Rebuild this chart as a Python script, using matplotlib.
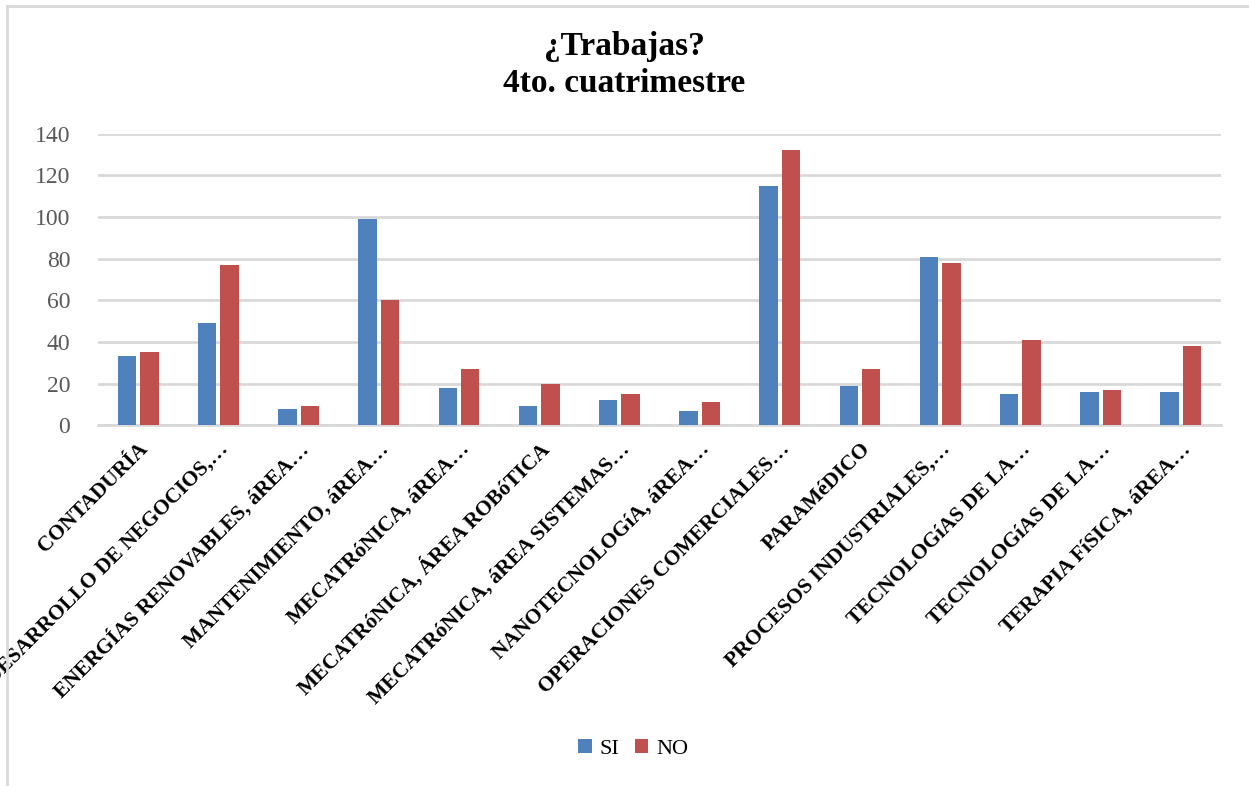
import matplotlib
matplotlib.use("Agg")
import matplotlib.pyplot as plt
import numpy as np
from matplotlib.lines import Line2D

categories = [
    "CONTADURÍA",
    "DESARROLLO DE NEGOCIOS,…",
    "ENERGÍAS RENOVABLES, áREA…",
    "MANTENIMIENTO, áREA…",
    "MECATRóNICA, áREA…",
    "MECATRóNICA, ÁREA ROBóTICA",
    "MECATRóNICA, áREA SISTEMAS…",
    "NANOTECNOLOGíA, áREA…",
    "OPERACIONES COMERCIALES…",
    "PARAMéDICO",
    "PROCESOS INDUSTRIALES,…",
    "TECNOLOGíAS DE LA…",
    "TECNOLOGíAS DE LA…",
    "TERAPIA FíSICA, áREA…",
]
si = [33, 49, 8, 99, 18, 9, 12, 7, 115, 19, 81, 15, 16, 16]
no = [35, 77, 9, 60, 27, 20, 15, 11, 132, 27, 78, 41, 17, 38]

BLUE = "#4f81bd"
RED = "#c0504d"
GRID = "#d9d9d9"
SERIF = ["Liberation Serif", "DejaVu Serif"]

fig = plt.figure(figsize=(12.49, 7.86), dpi=100)
ax = fig.add_axes([0.0785, 0.459, 0.899, 0.371])

x = np.arange(len(categories))
w = 0.23
ax.bar(x - w / 2 - 0.025, si, width=w, color=BLUE, label="SI", zorder=3)
ax.bar(x + w / 2 + 0.025, no, width=w, color=RED, label="NO", zorder=3)

ax.set_xlim(-0.5, len(categories) - 0.5)
ax.set_ylim(0, 140)
ax.set_yticks(range(0, 141, 20))
ax.yaxis.grid(True, color=GRID, linewidth=2, zorder=0)
ax.tick_params(length=0)
for s in ["top", "right", "left"]:
    ax.spines[s].set_visible(False)
ax.spines["bottom"].set_color(GRID)
ax.spines["bottom"].set_linewidth(2)

for lab in ax.get_yticklabels():
    lab.set_family(SERIF)
    lab.set_fontsize(17)
    lab.set_color("#595959")
ax.tick_params(axis="y", pad=20)

ax.set_xticks(x)
ax.set_xticklabels(categories, rotation=45, ha="right", rotation_mode="anchor",
                   fontsize=15.5, fontweight="bold", family=SERIF)
ax.tick_params(axis="x", pad=10)

fig.text(0.5, 1 - 47 / 786, "¿Trabajas?", ha="center", va="center",
         fontsize=24, fontweight="bold", family=SERIF)
fig.text(0.5, 1 - 83 / 786, "4to. cuatrimestre", ha="center", va="center",
         fontsize=24, fontweight="bold", family=SERIF)

leg = fig.legend(loc="center", bbox_to_anchor=(0.507, 0.047), ncol=2, frameon=False,
                 prop={"family": SERIF, "size": 16}, handlelength=0.6, handleheight=0.6,
                 handletextpad=0.35, columnspacing=0.7)

# chart area border
fig.add_artist(Line2D([0.0056, 1.0], [0.9924, 0.9924], color=GRID, linewidth=2,
                      transform=fig.transFigure))
fig.add_artist(Line2D([0.0056, 0.0056], [0.0, 0.9924], color=GRID, linewidth=2,
                      transform=fig.transFigure))

fig.savefig("out.png", dpi=100)
